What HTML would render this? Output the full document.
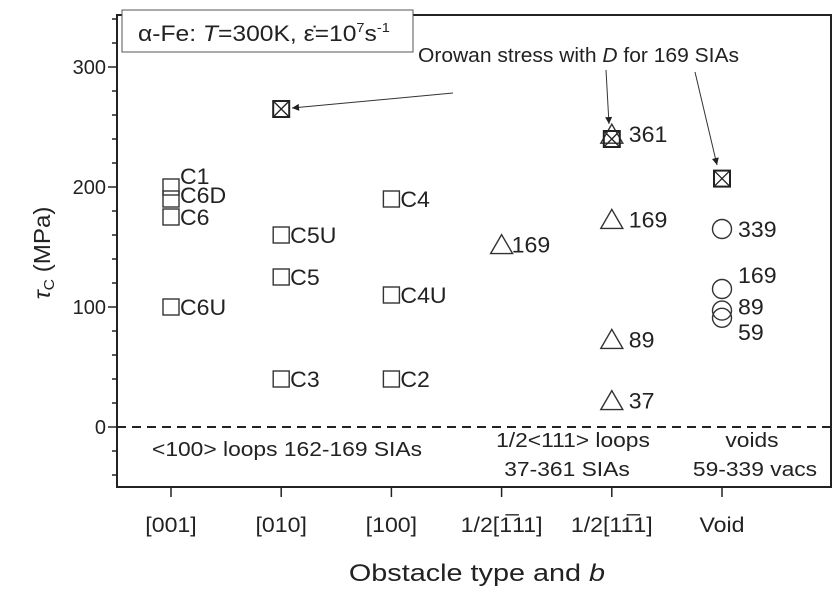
<!DOCTYPE html>
<html><head><meta charset="utf-8"><style>
body{margin:0;background:#fff;}
svg text{font-family:"Liberation Sans",sans-serif;fill:#222;}
</style></head><body>
<svg id="chart" width="834" height="591" xmlns="http://www.w3.org/2000/svg">
<defs><marker id="ah" viewBox="0 0 10 10" refX="10" refY="5" markerWidth="9" markerHeight="7" orient="auto" markerUnits="userSpaceOnUse"><path d="M0,0 L10,5 L0,10 z" fill="#222"/></marker></defs>
<g id="axes"></g>
<g id="marks"></g>
</svg>
<script>
const categories=["[001]","[010]","[100]","1/2[1\u030511]","1/2[11\u03051]","Void"];
const sqCat=[1,1,1,1,2,2,2,3,3,3];
const sqVal=[200,190,175,100,160,125,40,190,110,40];
const sqLab=["C1","C6D","C6","C6U","C5U","C5","C3","C4","C4U","C2"];
const triCat=[4,5,5,5,5];
const triVal=[152,244,173,73,22];
const triLab=["169","361","169","89","37"];
const cirCat=[6,6,6,6];
const cirVal=[165,115,97,91];
const cirLab=["339","169","89","59"];
const orCat=[2,5,6];
const orVal=[265,240,207];
const yTicks=[0,100,200,300];
const NS="http://www.w3.org/2000/svg";
const L=117,R=831,T=15,B=487;
const x=c=>171+110.2*(c-1);
const y=v=>427-1.2*v;
const svg=document.getElementById('chart');
const axes=document.getElementById('axes');
const marks=document.getElementById('marks');
function mk(p,tag,at,txt){const e=document.createElementNS(NS,tag);for(const k in at)e.setAttribute(k,at[k]);if(txt!==undefined)e.textContent=txt;p.appendChild(e);return e;}
function stretch(el,f){const w=el.getComputedTextLength();if(w>0){el.setAttribute('textLength',(w*f).toFixed(1));el.setAttribute('lengthAdjust','spacingAndGlyphs');}}
let e;
e=mk(axes,'rect',{x:L,y:T,width:R-L,height:B-T,fill:'none',stroke:'#222','stroke-width':2});


for(let v=-40;v<=340;v+=20){if(y(v)<T||y(v)>B)continue;const maj=yTicks.includes(v);
e=mk(axes,'line',{x1:L-(maj?9:5),x2:L,y1:y(v),y2:y(v),stroke:'#222','stroke-width':1.5});

}
yTicks.forEach(v=>{e=mk(axes,'text',{x:L-11,y:y(v)+7,'text-anchor':'end','font-size':20},v);

});
categories.forEach((c,i)=>{const xx=x(i+1);
e=mk(axes,'line',{x1:xx,x2:xx,y1:B,y2:B+10,stroke:'#222','stroke-width':1.5});


e=mk(axes,'text',{x:xx,y:532,'text-anchor':'middle','font-size':21},c);


stretch(e,1.1);});
e=mk(axes,'line',{x1:L,x2:R,y1:y(0),y2:y(0),stroke:'#222','stroke-width':2,'stroke-dasharray':'9,6'});


e=mk(axes,'text',{x:477,y:581,'text-anchor':'middle','font-size':24},'Obstacle type and ');


mk(e,'tspan',{'font-style':'italic'},'b');
stretch(e,1.2);
e=mk(axes,'text',{transform:'translate(50,253) rotate(-90)','text-anchor':'middle','font-size':23},'');


mk(e,'tspan',{'font-style':'italic'},'τ');mk(e,'tspan',{'font-size':15,dy:4},'C');mk(e,'tspan',{dy:-4},' (MPa)');
stretch(e,1.05);
e=mk(axes,'rect',{x:122,y:10,width:291,height:42,fill:'#fff',stroke:'#555','stroke-width':1});


e=mk(axes,'text',{x:138,y:41,'font-size':22},'α-Fe:  ');


mk(e,'tspan',{'font-style':'italic'},'T');mk(e,'tspan',{},'=300K, ε̇=10');mk(e,'tspan',{'font-size':13,dy:-9},'7');mk(e,'tspan',{dy:9},'s');mk(e,'tspan',{'font-size':13,dy:-9},'-1');
stretch(e,1.12);
e=mk(axes,'text',{x:418,y:62,'font-size':20},'Orowan stress with ');


mk(e,'tspan',{'font-style':'italic'},'D');mk(e,'tspan',{},' for 169 SIAs');
stretch(e,1.05);
[[453,93,292,108],[606,70,609,124],[695,72,717,165]].forEach(a=>{e=mk(axes,'line',{x1:a[0],y1:a[1],x2:a[2],y2:a[3],stroke:'#333','stroke-width':1,'marker-end':'url(#ah)'});

});
[[287,456,'<100> loops 162-169 SIAs'],[573,447,'1/2<111> loops'],[567,476,'37-361 SIAs'],[752,447,'voids'],[755,476,'59-339 vacs']].forEach(t=>{
e=mk(axes,'text',{x:t[0],y:t[1],'text-anchor':'middle','font-size':20},t[2]);


stretch(e,1.14);});
const st={fill:'none',stroke:'#333','stroke-width':1.4};
const sqDy=[-11,-4,0,0,0,0,0,0,0,0];
sqCat.forEach((c,i)=>{const cx=x(c),cy=y(sqVal[i]);
e=mk(marks,'rect',Object.assign({x:cx-8,y:cy-8,width:16,height:16},st));


e=mk(marks,'text',{x:cx+9,y:cy+8+sqDy[i],'font-size':22},sqLab[i]);


stretch(e,1.05);});
triCat.forEach((c,i)=>{const cx=x(c),cy=y(triVal[i]);
e=mk(marks,'polygon',Object.assign({points:`${cx-11},${cy+9} ${cx+11},${cy+9} ${cx},${cy-10}`},st));


e=mk(marks,'text',{x:cx+(c===4?10:17),y:cy+8,'font-size':22},triLab[i]);


stretch(e,1.05);});
const cdy=[0,-14,-4,14];
cirCat.forEach((c,i)=>{const cx=x(c),cy=y(cirVal[i]);
e=mk(marks,'circle',Object.assign({cx:cx,cy:cy,r:9.5},st));


e=mk(marks,'text',{x:cx+16,y:cy+8+cdy[i],'font-size':22},cirLab[i]);


stretch(e,1.05);});
orCat.forEach((c,i)=>{const cx=x(c),cy=y(orVal[i]);
e=mk(marks,'g',{});


mk(e,'rect',{x:cx-8,y:cy-8,width:16,height:16,fill:'none',stroke:'#222','stroke-width':2});
mk(e,'path',{d:`M${cx-8},${cy-8}L${cx+8},${cy+8}M${cx+8},${cy-8}L${cx-8},${cy+8}`,stroke:'#222','stroke-width':1.3});});
</script>
</body></html>
